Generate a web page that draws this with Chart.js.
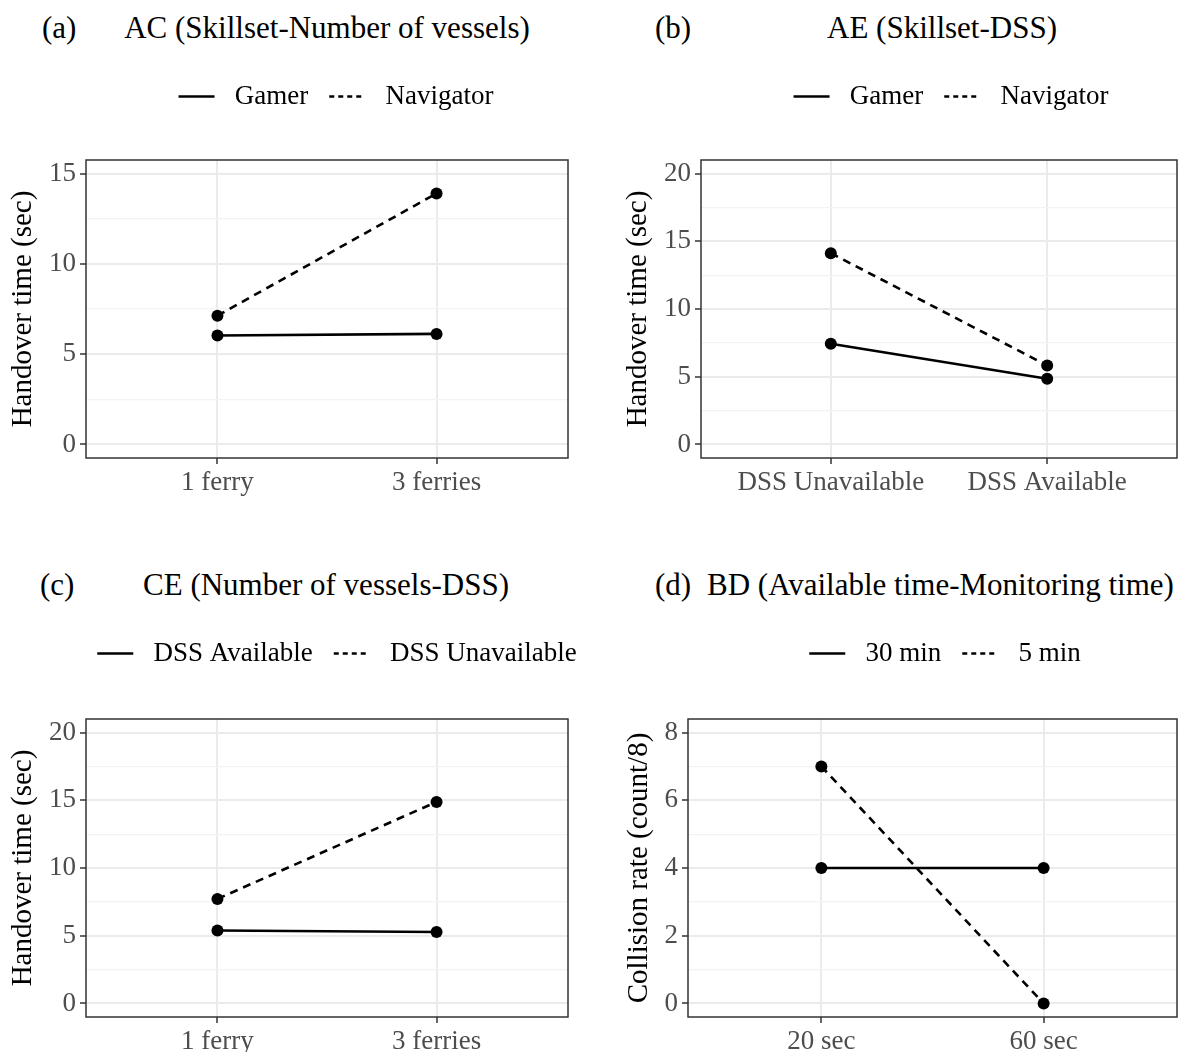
<!DOCTYPE html>
<html>
<head>
<meta charset="utf-8">
<script src="https://cdn.jsdelivr.net/npm/chart.js@4.4.0/dist/chart.umd.min.js"></script>
<style>
  body { margin:0; background:#fff; width:1183px; height:1052px; position:relative; overflow:hidden; font-family:"Liberation Serif", serif; }
  canvas { position:absolute; }
  .tag, .ttl { position:absolute; font-size:31px; line-height:1; color:#000; white-space:nowrap; }
  .mid { transform:translateX(-50%); }
</style>
</head>
<body>
<div class="tag" style="left:42px;top:12px">(a)</div>
<div class="ttl mid" style="left:327px;top:12px">AC (Skillset-Number of vessels)</div>
<div class="tag" style="left:655px;top:12px">(b)</div>
<div class="ttl mid" style="left:942px;top:12px">AE (Skillset-DSS)</div>
<div class="tag" style="left:40px;top:569px">(c)</div>
<div class="ttl mid" style="left:326px;top:569px">CE (Number of vessels-DSS)</div>
<div class="tag" style="left:655px;top:569px">(d)</div>
<div class="ttl" style="left:707px;top:569px">BD (Available time-Monitoring time)</div>

<canvas id="chart-a"></canvas>
<canvas id="chart-b"></canvas>
<canvas id="chart-c"></canvas>
<canvas id="chart-d"></canvas>

<script>
// (a) Skillset x number of vessels
var catsA      = ['1 ferry', '3 ferries'];
var gamerA     = [6.03, 6.12];
var navigatorA = [7.13, 13.9];
var ticksA     = [0, 5, 10, 15];

// (b) Skillset x DSS
var catsB      = ['DSS Unavailable', 'DSS Available'];
var gamerB     = [7.43, 4.85];
var navigatorB = [14.12, 5.83];
var ticksB     = [0, 5, 10, 15, 20];

// (c) Number of vessels x DSS
var catsC        = ['1 ferry', '3 ferries'];
var dssAvailC    = [5.39, 5.27];
var dssUnavailC  = [7.72, 14.88];
var ticksC       = [0, 5, 10, 15, 20];

// (d) Available time x monitoring time
var catsD   = ['20 sec', '60 sec'];
var min30D  = [4, 4];
var min5D   = [7, 0];
var ticksD  = [0, 2, 4, 6, 8];

Chart.defaults.font.family = '"Liberation Serif", serif';

var lineDash = [8, 6];
var legendDash = [5, 4];

// frame around the panel, like theme_bw
var frame = {
  id: 'frame',
  afterDraw: function(chart) {
    var a = chart.chartArea, ctx = chart.ctx;
    ctx.save();
    ctx.strokeStyle = '#333';
    ctx.lineWidth = 1.5;
    ctx.setLineDash([]);
    ctx.strokeRect(a.left, a.top, a.right - a.left, a.bottom - a.top);
    ctx.restore();
  }
};

function panel(id, pos, cats, series, names, yTicks, yTitle) {
  var cv = document.getElementById(id);
  cv.width = pos.cw;
  cv.height = pos.ch;
  cv.style.left = pos.cl + 'px';
  cv.style.top = pos.ct + 'px';

  var step = yTicks[1] - yTicks[0];
  var range = yTicks[yTicks.length - 1] - yTicks[0];
  var minor = yTicks.slice(0, -1).map(function(v) { return v + step / 2; });
  var allTicks = yTicks.concat(minor).sort(function(a, b) { return a - b; });
  var isMajor = function(v) { return yTicks.indexOf(v) >= 0; };

  var datasets = series.map(function(vals, k) {
    return {
      label: names[k],
      data: vals.map(function(v, i) { return {x: i + 1, y: v}; }),
      borderColor: '#000',
      backgroundColor: '#000',
      borderWidth: 2.6,
      borderDash: k ? lineDash : [],
      pointRadius: 6,
      pointBorderWidth: 0,
      pointBackgroundColor: '#000',
      tension: 0,
      clip: false
    };
  });

  var legendExtra = {
    id: 'legendExtra',
    beforeInit: function(chart) {
      var fit = chart.legend.fit;
      chart.legend.fit = function() {
        fit.bind(chart.legend)();
        this.height = pos.top - pos.ct;
      };
    },
    afterLayout: function(chart) {
      var half = chart.legend.width / 2;
      chart.legend.left = pos.legend - pos.cl - half;
      chart.legend.right = pos.legend - pos.cl + half;
    }
  };

  return new Chart(cv, {
    type: 'line',
    data: { datasets: datasets },
    options: {
      responsive: false,
      animation: false,
      events: [],
      layout: { padding: { right: pos.cl + pos.cw - pos.right } },
      plugins: {
        tooltip: { enabled: false },
        legend: {
          display: true,
          position: 'top',
          labels: {
            usePointStyle: true,
            pointStyleWidth: 36,
            padding: 21,
            color: '#000',
            font: { size: 27 },
            generateLabels: function(chart) {
              return chart.data.datasets.map(function(ds, i) {
                return {
                  text: ' ' + ds.label,
                  fillStyle: '#000',
                  strokeStyle: '#000',
                  lineWidth: 2.6,
                  lineDash: ds.borderDash.length ? legendDash : [],
                  pointStyle: 'line',
                  fontColor: '#000',
                  hidden: false,
                  datasetIndex: i
                };
              });
            }
          }
        }
      },
      scales: {
        x: {
          type: 'linear',
          min: 0.4,
          max: 2.6,
          afterBuildTicks: function(s) { s.ticks = cats.map(function(c, i) { return {value: i + 1}; }); },
          afterFit: function(s) { s.height = pos.ct + pos.ch - pos.bottom; },
          ticks: {
            callback: function(v) { return cats[v - 1]; },
            color: '#4d4d4d',
            font: { size: 27 },
            padding: 3,
            maxRotation: 0,
            autoSkip: false
          },
          grid: { color: '#ebebeb', lineWidth: 2, tickColor: '#333', tickLength: 6, tickWidth: 1.5 },
          border: { display: false }
        },
        y: {
          type: 'linear',
          min: yTicks[0] - 0.05 * range,
          max: yTicks[yTicks.length - 1] + 0.05 * range,
          afterBuildTicks: function(s) { s.ticks = allTicks.map(function(v) { return {value: v}; }); },
          afterFit: function(s) { s.width = pos.left - pos.cl; },
          ticks: {
            callback: function(v) { return isMajor(v) ? String(v) : ''; },
            color: '#4d4d4d',
            font: { size: 27 },
            padding: 4,
            autoSkip: false
          },
          grid: {
            color: function(c) { return isMajor(c.tick.value) ? '#ebebeb' : '#f3f3f3'; },
            lineWidth: function(c) { return isMajor(c.tick.value) ? 2 : 1.2; },
            tickColor: function(c) { return isMajor(c.tick.value) ? '#333' : 'rgba(0,0,0,0)'; },
            tickLength: 6,
            tickWidth: 1.5
          },
          border: { display: false },
          title: {
            display: true,
            text: yTitle,
            color: '#000',
            font: { size: 29 },
            padding: { top: pos.ytitle - pos.cl - 17.4, bottom: 0 }
          }
        }
      }
    },
    plugins: [frame, legendExtra]
  });
}

var chart_a = panel('chart-a',
  {cl: 0, ct: 62, cw: 590, ch: 456, left: 86, right: 568, top: 160, bottom: 458, ytitle: 23, legend: 336},
  catsA, [gamerA, navigatorA], ['Gamer', 'Navigator'], ticksA, 'Handover time (sec)');

var chart_b = panel('chart-b',
  {cl: 600, ct: 62, cw: 583, ch: 456, left: 701, right: 1181, top: 160, bottom: 458, ytitle: 638, legend: 951},
  catsB, [gamerB, navigatorB], ['Gamer', 'Navigator'], ticksB, 'Handover time (sec)');

var chart_c = panel('chart-c',
  {cl: 0, ct: 619, cw: 590, ch: 433, left: 86, right: 568, top: 719, bottom: 1017, ytitle: 23, legend: 337},
  catsC, [dssAvailC, dssUnavailC], ['DSS Available', 'DSS Unavailable'], ticksC, 'Handover time (sec)');

var chart_d = panel('chart-d',
  {cl: 600, ct: 619, cw: 583, ch: 433, left: 688, right: 1181, top: 719, bottom: 1017, ytitle: 639, legend: 945},
  catsD, [min30D, min5D], ['30 min', '5 min'], ticksD, 'Collision rate (count/8)');
</script>
</body>
</html>
